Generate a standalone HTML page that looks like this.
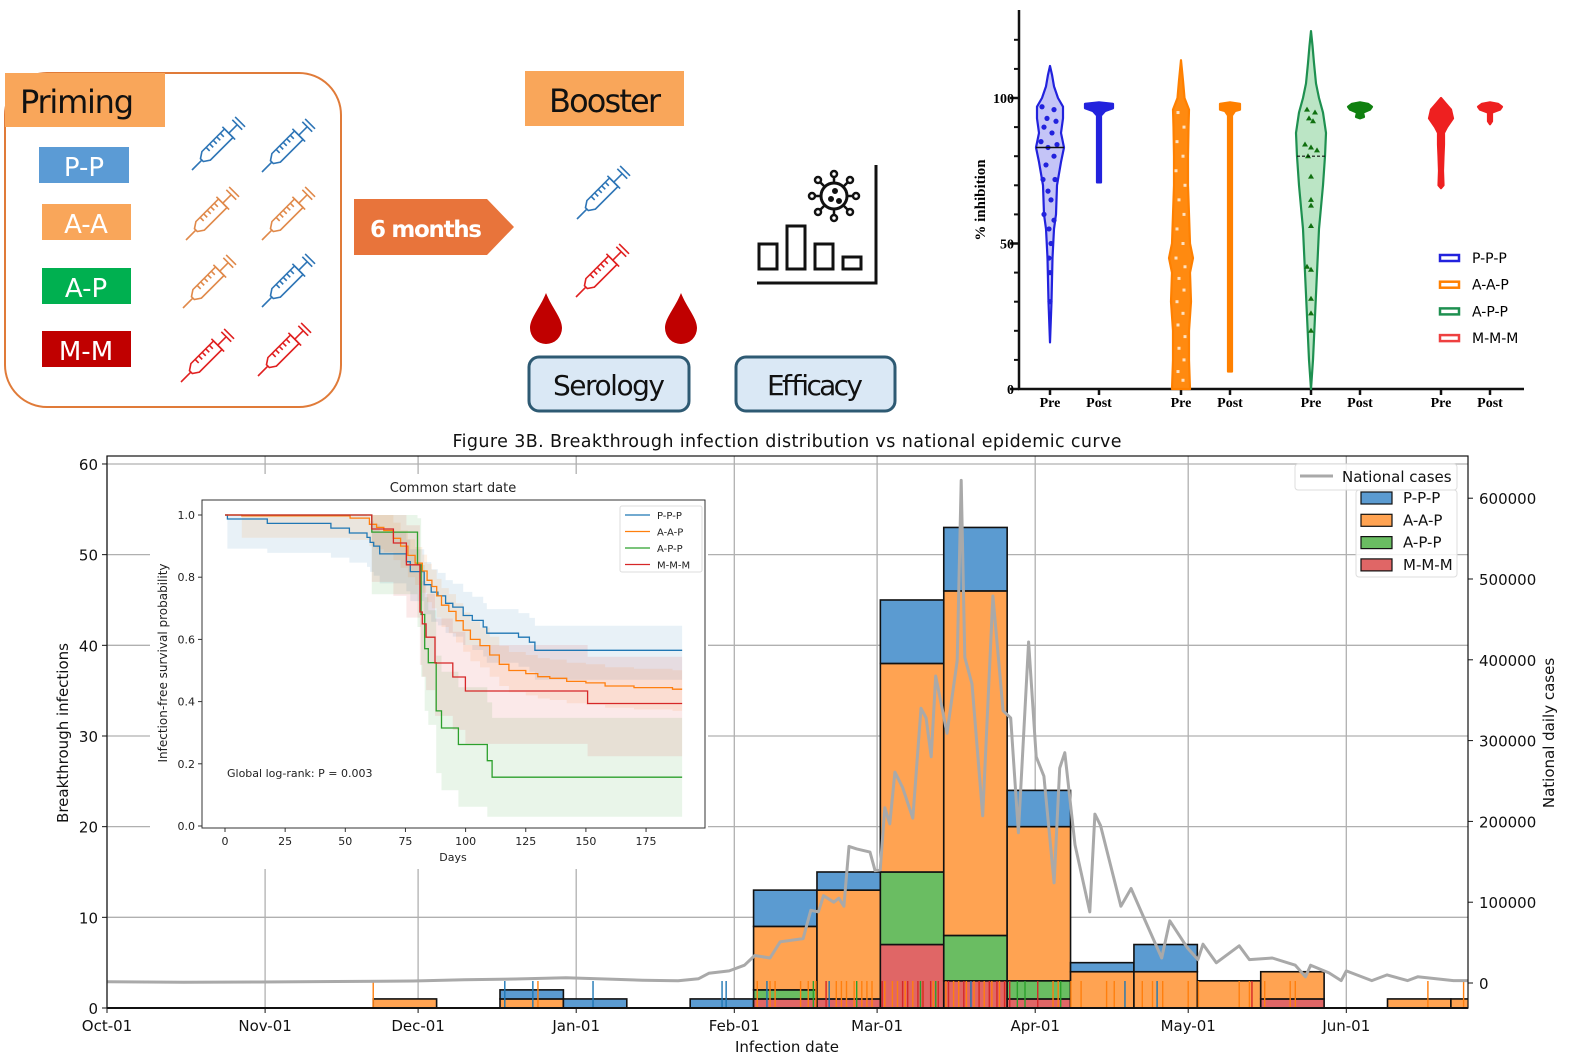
<!DOCTYPE html>
<html><head><meta charset="utf-8">
<style>
html,body{margin:0;padding:0;background:#fff;}
svg{display:block;}
text{font-family:"DejaVu Sans","Liberation Sans",sans-serif;}
.serif{font-family:"Liberation Serif",serif;font-weight:bold;}
</style></head>
<body>
<svg id="fig" width="1571" height="1063" viewBox="0 0 1571 1063" xmlns="http://www.w3.org/2000/svg">
<!-- ===== Schematic ===== -->
<g>
  <rect x="5" y="73" width="336" height="334" rx="42" fill="none" stroke="#e07b39" stroke-width="2"/>
  <rect x="5" y="73" width="160" height="54" fill="#f9a65a"/>
  <text x="20" y="113" font-size="32" fill="#111" textLength="114">Priming</text>
  <rect x="39" y="147" width="90" height="36" fill="#5b9bd5"/>
  <text x="84" y="176" font-size="26" fill="#fff" text-anchor="middle">P-P</text>
  <rect x="42" y="204" width="89" height="36" fill="#f9a65a"/>
  <text x="86" y="233" font-size="26" fill="#fff" text-anchor="middle">A-A</text>
  <rect x="42" y="268" width="89" height="36" fill="#00b050"/>
  <text x="86" y="297" font-size="26" fill="#fff" text-anchor="middle">A-P</text>
  <rect x="42" y="331" width="89" height="36" fill="#c00000"/>
  <text x="86" y="360" font-size="26" fill="#fff" text-anchor="middle">M-M</text>
  <g id="syringes"></g>
  <path d="M354 199 H487 L514 227 L487 255 H354 Z" fill="#e8743b"/>
  <text x="426" y="237" font-size="23" font-weight="bold" fill="#fff" text-anchor="middle" textLength="112">6 months</text>
  <rect x="525" y="71" width="159" height="55" fill="#f9a65a"/>
  <text x="605" y="112" font-size="32" fill="#111" text-anchor="middle" textLength="112">Booster</text>
  <path d="M546 293 C552 308 562 318 562 328 A16 16 0 0 1 530 328 C530 318 540 308 546 293 Z" fill="#c00000"/>
  <path d="M681 293 C687 308 697 318 697 328 A16 16 0 0 1 665 328 C665 318 675 308 681 293 Z" fill="#c00000"/>
  <rect x="529" y="357" width="160" height="54" rx="10" fill="#dae8f5" stroke="#2e5a73" stroke-width="3"/>
  <text x="609" y="395" font-size="28" fill="#111" text-anchor="middle" textLength="112">Serology</text>
  <rect x="736" y="357" width="159" height="54" rx="10" fill="#dae8f5" stroke="#2e5a73" stroke-width="3"/>
  <text x="815" y="395" font-size="28" fill="#111" text-anchor="middle" textLength="96">Efficacy</text>
  <g fill="none" stroke="#111" stroke-width="3">
    <polyline points="876,165 876,283 757,283"/>
    <rect x="759" y="244" width="18" height="25"/><rect x="787" y="226" width="18" height="43"/>
    <rect x="815" y="244" width="18" height="25"/><rect x="843" y="257" width="18" height="12"/>
    <circle cx="834" cy="196" r="13"/>
    <g stroke-width="2.5">
      <line x1="834" y1="183" x2="834" y2="177"/><circle cx="834" cy="174" r="3"/>
      <line x1="834" y1="209" x2="834" y2="215"/><circle cx="834" cy="218" r="3"/>
      <line x1="821" y1="196" x2="815" y2="196"/><circle cx="812" cy="196" r="3"/>
      <line x1="847" y1="196" x2="853" y2="196"/><circle cx="856" cy="196" r="3"/>
      <line x1="825" y1="187" x2="820" y2="182"/><circle cx="818" cy="180" r="3"/>
      <line x1="843" y1="187" x2="848" y2="182"/><circle cx="850" cy="180" r="3"/>
      <line x1="825" y1="205" x2="820" y2="210"/><circle cx="818" cy="212" r="3"/>
      <line x1="843" y1="205" x2="848" y2="210"/><circle cx="850" cy="212" r="3"/>
    </g>
    <circle cx="835" cy="191" r="1.5" fill="#111"/><circle cx="831" cy="199" r="1.5" fill="#111"/><circle cx="839" cy="201" r="1.5" fill="#111"/>
  </g>
</g>

<!-- ===== Violin plot ===== -->
<g id="violin">
  <text transform="translate(985,200) rotate(-90)" class="serif" font-size="15" text-anchor="middle">% inhibition</text>
  <g id="violinAxes"></g>
  <g id="violins"></g>
  <g id="violinLegend"></g>
</g>

<!-- ===== Main chart ===== -->
<text x="787" y="447" font-size="17.5" text-anchor="middle" fill="#111" textLength="669">Figure 3B. Breakthrough infection distribution vs national epidemic curve</text>
<g id="main"></g>
</svg>

<script>
// ---------- main chart data ----------
const monthLabels = ["Oct-01","Nov-01","Dec-01","Jan-01","Feb-01","Mar-01","Apr-01","May-01","Jun-01"];
const monthDays = [0,31,61,92,123,151,182,212,243];
const leftTicks = [0,10,20,30,40,50,60];
const rightTicks = [0,100000,200000,300000,400000,500000,600000];
const groups = ["P-P-P","A-A-P","A-P-P","M-M-M"];
const binStartDay = 52.2;
const binWidthDays = 12.43;
const countsPPP = [0,0,1,1,0,1,4,2,7,7,4,1,3,0,0,0,0,0];
const countsAAP = [1,0,1,0,0,0,7,12,23,38,17,4,4,3,3,0,1,1];
const countsAPP = [0,0,0,0,0,0,1,0,8,5,2,0,0,0,0,0,0,0];
const countsMMM = [0,0,0,0,0,0,1,1,7,3,1,0,0,0,1,0,0,0];
const rugPPP = [78,83.5,95.3,120.6,121.4,129.4,141.6,169.4,199.6,205.9];
const rugAAP = [52.2,84.5,127.5,130,131,136,137.5,139,143,144,145,146.5,148,149,150,152.5,154,155,156.5,158,160,162,163,164.5,166,167,168.5,170,171,172,173.5,175,176,185.5,186.5,189,191,196,197.5,203,205,207,212,214,222,224,227,232,233,259,266];
const rugAPP = [138.5,147,159.5,162.5,178.5,180,187];
const rugMMM = [141,152,156,157,159,160,161.5,163,165,168,171,173,174.5,176,177,182.5,224.5];
const caseDays = [0,15,30,45,60,70,80,90,100,105,110,112,116,118,122,125,127,130,132,136.5,138,139.5,140.5,142.5,143.5,144.5,145.5,147,149.6,150.6,151.6,152.5,153.5,154.5,156,158,159.6,160.6,161.6,162.5,164.7,166.7,167.5,168.2,169.6,171.7,173.7,175.7,177.2,178.7,180.7,182.2,183.7,185.7,186.8,187.8,189.8,192.7,193.7,194.8,198.8,200.8,202.8,206.8,208.4,211.9,213.9,214.9,217.5,222,224,228.5,233,235,236,239.6,242,243,248,251,255,257,264,267];
const caseValues = [1500,1000,1200,1800,2500,4000,5000,6500,4500,3500,3000,2800,5300,12000,15000,22000,34000,31000,51000,55000,90000,88000,108000,100000,105000,95000,169000,166000,162000,139000,140000,217000,197000,261000,242000,204000,340000,328000,280000,380000,309000,399000,622000,403000,370000,207000,479000,337000,328000,186000,422000,280000,256000,124000,266000,285000,171000,88000,209000,195000,95000,117000,88000,31000,77000,43000,29000,48000,25000,46000,29000,31000,22000,7700,22000,12500,3000,15000,3000,10000,3000,7700,3000,3000];

// ---------- inset (KM) data ----------
const kmTicksX = [0,25,50,75,100,125,150,175];
const kmTicksY = [0.0,0.2,0.4,0.6,0.8,1.0];
const kmEnd = 190;
const kmTimesPPP = [1,17.6,44,51.7,59,60.3,61.8,64.3,75.4,77,82.8,85.7,88.5,91.7,94.7,99,102.8,107.3,108.8,122,126.5,128.8];
const kmSurvPPP  = [0.987,0.973,0.958,0.942,0.928,0.912,0.9,0.875,0.85,0.818,0.776,0.752,0.74,0.716,0.704,0.677,0.661,0.64,0.62,0.607,0.591,0.565];
const kmTimesAAP = [7,52,60,63,66,70,73,76,79,82,84,86,88,90,93,96,99,102,106,110,114,118,125,130,135,142,150,158,170,186];
const kmSurvAAP  = [0.997,0.99,0.97,0.96,0.95,0.925,0.9,0.87,0.845,0.82,0.79,0.77,0.74,0.71,0.69,0.66,0.63,0.6,0.58,0.55,0.52,0.5,0.49,0.48,0.475,0.465,0.46,0.45,0.445,0.44];
const kmTimesAPP = [61,80,81.5,83,84.5,87.8,90,97,109,111];
const kmSurvAPP  = [0.945,0.84,0.68,0.57,0.525,0.37,0.315,0.262,0.21,0.157];
const kmTimesMMM = [61,70,75.4,81,82,83.6,87.3,94.7,99.9,150.7];
const kmSurvMMM  = [0.955,0.91,0.84,0.688,0.65,0.607,0.524,0.479,0.434,0.394];
const kmCIHalf = [0.095,0.07,0.2,0.17];

// ---------- violin data ----------
const violinTicks = [0,50,100];
const violinCats = ["Pre","Post","Pre","Post","Pre","Post","Pre","Post"];
const violinShapePPPpre = [[16,0],[30,1.5],[45,2.5],[55,4],[60,6],[70,7],[78,11],[83,14],[88,11],[93,13],[97,13],[100,8],[104,4],[108,2],[111,0]];
const violinShapePPPpost = [[71,2],[73,2],[94,2],[95.5,6],[96.5,14],[98,14],[98.5,0]];
const violinShapeAAPpre = [[0,9],[10,8],[20,8],[30,10],[40,9],[45,12],[50,9],[60,8],[70,7],[80,7],[90,7.5],[96,8],[100,3.5],[106,2],[113,0]];
const violinShapeAAPpost = [[6,2],[7,2],[94,2],[95.5,5],[96,10],[98,10],[98.5,0]];
const violinShapeAPPpre = [[0,0],[10,2],[25,4],[40,6],[55,8],[70,12],[80,14],[88,15],[95,12],[100,8],[105,5],[112,3],[118,1.5],[123,0]];
const violinShapeAPPpost = [[93,0],[93.5,4],[95,3],[96,10],[97,12],[98,8],[98.5,0]];
const violinShapeMMMpre = [[69,0],[70,2.5],[75,2],[80,2.5],[84,3],[88,3],[90,6],[93,12],[96,10],[98,5],[100,0]];
const violinShapeMMMpost = [[91,0],[92,2],[95,2],[96,10],[97,12],[98,8],[98.5,0]];
const violinDotsPPP = [[97,-8],[96,4],[93,-3],[92,6],[90,-6],[88,2],[85,-9],[84,7],[83,-2],[80,4],[77,-4],[72,-7],[72,5],[68,-2],[65,1],[60,-6],[58,4],[55,-1],[50,1],[45,-1],[40,0],[30,0]];
const violinDotsAPP = [[96,-4],[95,4],[93,-2],[92,2],[84,-6],[83,0],[82,6],[80,-3],[73,0],[65,0],[63,0],[56,0],[42,-4],[41,0],[31,0],[26,0],[20,0]];
const violinDotsAAP = [[95,-3],[90,3],[85,-4],[80,2],[75,-5],[70,4],[65,-2],[60,3],[55,-4],[50,2],[45,-5],[42,4],[38,-2],[34,3],[30,-4],[26,2],[22,-3],[18,4],[14,-2],[10,3],[6,-3],[3,2]];

const NS = "http://www.w3.org/2000/svg";
function mk(parent, tag, attrs, text) {
  const e = document.createElementNS(NS, tag);
  for (const k in attrs) e.setAttribute(k, attrs[k]);
  if (text !== undefined) e.textContent = text;
  parent.appendChild(e);
  return e;
}

// ---------- syringes ----------
(function(){
  const g = document.getElementById("syringes");
  const list = [[192,170,"#2e75b6"],[262,172,"#2e75b6"],[186,240,"#e0894a"],[262,240,"#e0894a"],[183,308,"#e0894a"],[262,307,"#2e75b6"],[181,382,"#e02020"],[258,376,"#e02020"],[577,219,"#2e75b6"],[576,297,"#e02020"]];
  list.forEach((s,i)=>{
    const sg = mk(g,"g",{transform:`translate(${s[0]},${s[1]}) rotate(-45)`,fill:"none",stroke:s[2],"stroke-width":"1.6"});
    
    
    mk(sg,"line",{x1:0,y1:0,x2:14,y2:0});
    mk(sg,"path",{d:"M14 -2 L20 -6 H52 V6 H20 L14 2 Z"});
    for (let k=0;k<5;k++) mk(sg,"line",{x1:26+k*5,y1:-6,x2:26+k*5,y2:-1});
    mk(sg,"line",{x1:52,y1:0,x2:64,y2:0});
    mk(sg,"line",{x1:52,y1:-9,x2:52,y2:9});
    mk(sg,"line",{x1:64,y1:-7,x2:64,y2:7});
    mk(sg,"line",{x1:68,y1:-7,x2:68,y2:7});
  });
})();

// ---------- violin ----------
(function(){
  const ax = document.getElementById("violinAxes");
  const y0 = 389, pxPer = 2.91, xL = 1019, xR = 1524;
  const vy = v => y0 - v*pxPer;
  mk(ax,"line",{x1:xL,y1:10,x2:xL,y2:y0+1,stroke:"#111","stroke-width":2.5});
  mk(ax,"line",{x1:xL-1,y1:y0,x2:xR,y2:y0,stroke:"#111","stroke-width":2.5});
  for (let v=0; v<=128; v+=10) mk(ax,"line",{x1:xL-5,y1:vy(v),x2:xL,y2:vy(v),stroke:"#111","stroke-width":2});
  violinTicks.forEach(v=>{
    mk(ax,"line",{x1:xL-9,y1:vy(v),x2:xL,y2:vy(v),stroke:"#111","stroke-width":2.5});
    const t = mk(ax,"text",{x:xL-5,y:vy(v)+5,"font-size":14,"text-anchor":"end",class:"serif"},String(v));
    
    
  });
  const cx = [1050,1099,1181,1230,1311,1360,1441,1490];
  violinCats.forEach((c,i)=>{
    mk(ax,"line",{x1:cx[i],y1:y0,x2:cx[i],y2:y0+6,stroke:"#111","stroke-width":2.5});
    const t = mk(ax,"text",{x:cx[i],y:407,"font-size":14,"text-anchor":"middle",class:"serif"},c);
    
    
  });
  const vg = document.getElementById("violins");
  const shapes = [violinShapePPPpre,violinShapePPPpost,violinShapeAAPpre,violinShapeAAPpost,violinShapeAPPpre,violinShapeAPPpost,violinShapeMMMpre,violinShapeMMMpost];
  const cols = ["#2222dd","#2222dd","#ff8000","#ff8000","#1e9050","#108010","#ee2020","#ee2020"];
  const fills = ["rgba(60,60,230,0.3)","#2222dd","#ff8a10","#ff8000","rgba(60,180,90,0.35)","#108010","#ee2020","#ee2020"];
  shapes.forEach((sh,i)=>{
    let d = "";
    sh.forEach((p,j)=>{ d += (j?"L":"M")+(cx[i]+p[1])+" "+vy(p[0]); });
    for (let j=sh.length-1;j>=0;j--) d += "L"+(cx[i]-sh[j][1])+" "+vy(sh[j][0]);
    d += "Z";
    const p = mk(vg,"path",{d:d,fill:fills[i],stroke:cols[i],"stroke-width":2.2,"stroke-linejoin":"round"});
    
    
  });
  violinDotsPPP.forEach(p=>{
    const c = mk(vg,"circle",{cx:1050+p[1],cy:vy(p[0]),r:2.6,fill:"#2222dd"});
    
    
  });
  violinDotsAAP.forEach(p=>{
    const c = mk(vg,"rect",{x:1181+p[1]-1.5,y:vy(p[0])-1.5,width:3,height:3,fill:"#fde0c0"});
    
    
  });
  violinDotsAPP.forEach(p=>{
    const x=1311+p[1], y=vy(p[0]);
    const c = mk(vg,"path",{d:`M${x} ${y-3}L${x+3} ${y+2}L${x-3} ${y+2}Z`,fill:"#107010"});
    
    
  });
  mk(vg,"line",{x1:1036,y1:vy(83),x2:1064,y2:vy(83),stroke:"#111","stroke-width":1.5});
  mk(vg,"line",{x1:1297,y1:vy(80),x2:1325,y2:vy(80),stroke:"#111","stroke-width":1.2,"stroke-dasharray":"3 2"});
  const lg = document.getElementById("violinLegend");
  const lcols = ["#2222dd","#ff8000","#1e9050","#ee4040"];
  groups.forEach((g,i)=>{
    const y = 258 + i*26.7;
    const r = mk(lg,"rect",{x:1440,y:y-3,width:19,height:6,fill:"#fff",stroke:lcols[i],"stroke-width":2.5});
    
    
    const t = mk(lg,"text",{x:1472,y:y+5,"font-size":14,"font-family":"Liberation Serif, serif"},g);
    
    
  });
})();

// ---------- main chart ----------
(function(){
  const m = document.getElementById("main");
  const X0 = 107, XR = 1468, YB = 1008, YT = 456;
  const xd = d => X0 + d*5.1;
  const yl = v => YB - v*9.067;
  const yr = v => 983 - v/100000*80.8;
  mk(m,"defs",{}).innerHTML = `<clipPath id="plotclip"><rect x="${X0}" y="${YT}" width="${XR-X0}" height="${YB-YT}"/></clipPath>`;
  const grid = mk(m,"g",{stroke:"#b0b0b0","stroke-width":1.3});
  
  
  leftTicks.forEach(v=>mk(grid,"line",{x1:X0,y1:yl(v),x2:XR,y2:yl(v)}));
  monthDays.forEach(d=>mk(grid,"line",{x1:xd(d),y1:YT,x2:xd(d),y2:YB}));
  const plot = mk(m,"g",{"clip-path":"url(#plotclip)"});
  const series = [countsMMM,countsAPP,countsAAP,countsPPP];
  const names = ["M-M-M","A-P-P","A-A-P","P-P-P"];
  const colors = ["#e06666","#6abd62","#ffa352","#5b9bd1"];
  for (let k=0;k<countsPPP.length;k++){
    let base = 0;
    const x1 = xd(binStartDay + k*binWidthDays), x2 = xd(binStartDay + (k+1)*binWidthDays);
    series.forEach((s,si)=>{
      if (s[k]>0){
        const r = mk(plot,"rect",{x:x1,y:yl(base+s[k]),width:x2-x1,height:yl(base)-yl(base+s[k]),fill:colors[si],stroke:"#111","stroke-width":1.6});
        
        
      }
      base += s[k];
    });
  }
  const rugs = [[rugAAP,"#ff7f0e"],[rugMMM,"#d62728"],[rugAPP,"#2ca02c"],[rugPPP,"#1f77b4"]];
  rugs.forEach(rg=>rg[0].forEach(d=>{
    const l = mk(plot,"line",{x1:xd(d),y1:YB,x2:xd(d),y2:YB-27,stroke:rg[1],"stroke-width":1.4});
    
    
  }));
  let pd = "";
  caseDays.forEach((d,i)=>{ pd += (i?"L":"M")+xd(d).toFixed(1)+" "+yr(caseValues[i]).toFixed(1); });
  const nl = mk(plot,"path",{d:pd,fill:"none",stroke:"#a9a9a9","stroke-width":3,"stroke-linejoin":"round"});
  
  
  const axes = mk(m,"g",{});
  
  
  mk(axes,"rect",{x:X0,y:YT,width:XR-X0,height:YB-YT,fill:"none",stroke:"#111","stroke-width":1.2});
  mk(axes,"line",{x1:X0,y1:YB,x2:XR,y2:YB,stroke:"#111","stroke-width":2});
  leftTicks.forEach(v=>{
    mk(axes,"line",{x1:X0-5,y1:yl(v),x2:X0,y2:yl(v),stroke:"#111"});
    const t = mk(axes,"text",{x:X0-9,y:yl(v)+6,"font-size":15,"text-anchor":"end",fill:"#111"},String(v));
    
    
  });
  rightTicks.forEach(v=>{
    mk(axes,"line",{x1:XR,y1:yr(v),x2:XR+5,y2:yr(v),stroke:"#111"});
    const t = mk(axes,"text",{x:XR+11,y:yr(v)+6,"font-size":15,fill:"#111"},String(v));
    
    
  });
  monthDays.forEach((d,i)=>{
    mk(axes,"line",{x1:xd(d),y1:YB,x2:xd(d),y2:YB+5,stroke:"#111"});
    const t = mk(axes,"text",{x:xd(d),y:YB+23,"font-size":15,"text-anchor":"middle",fill:"#111"},monthLabels[i]);
    
    
  });
  let t = mk(axes,"text",{x:787,y:1052,"font-size":15,"text-anchor":"middle",fill:"#111"},"Infection date");
   
  t = mk(axes,"text",{transform:"translate(68,733) rotate(-90)","font-size":15,"text-anchor":"middle",fill:"#111"},"Breakthrough infections");
   
  t = mk(axes,"text",{transform:"translate(1554,733) rotate(-90)","font-size":15,"text-anchor":"middle",fill:"#111"},"National daily cases");
   
  const lg = mk(m,"g",{});
  
  
  mk(lg,"rect",{x:1295,y:464,width:162,height:26,rx:3,fill:"rgba(255,255,255,0.85)",stroke:"#ddd"});
  mk(lg,"line",{x1:1300,y1:476,x2:1333,y2:476,stroke:"#a9a9a9","stroke-width":3});
  t = mk(lg,"text",{x:1342,y:482,"font-size":15,fill:"#111"},"National cases");
   
  mk(lg,"rect",{x:1356,y:490,width:101,height:87,rx:3,fill:"rgba(255,255,255,0.85)",stroke:"#ddd"});
  const legCols = ["#5b9bd1","#ffa352","#6abd62","#e06666"];
  groups.forEach((g,i)=>{
    const y = 498 + i*22.3;
    const r = mk(lg,"rect",{x:1361,y:y-6,width:31,height:12,fill:legCols[i],stroke:"#111","stroke-width":1.2});
     
    const tx = mk(lg,"text",{x:1403,y:y+5,"font-size":15,fill:"#111"},g);
     
  });

  // ---------- inset ----------
  const ins = mk(m,"g",{});
  
  
  mk(ins,"rect",{x:150,y:474,width:558,height:395,fill:"#fff"});
  const ix = d => 225 + d*2.406;
  const iy = p => 826 - p*311;
  mk(ins,"rect",{x:202,y:500,width:503,height:328,fill:"none",stroke:"#333","stroke-width":1});
  const kmCols = ["#1f77b4","#ff7f0e","#2ca02c","#d62728"];
  const kmT = [kmTimesPPP,kmTimesAAP,kmTimesAPP,kmTimesMMM];
  const kmS = [kmSurvPPP,kmSurvAAP,kmSurvAPP,kmSurvMMM];
  function stepPath(ts, ss){
    let d = `M${ix(0)} ${iy(1)}`;
    ts.forEach((tt,i)=>{ d += `H${ix(tt).toFixed(1)}V${iy(ss[i]).toFixed(1)}`; });
    d += `H${ix(kmEnd)}`;
    return d;
  }
  kmT.forEach((ts,g)=>{
    const ss = kmS[g], h = kmCIHalf[g];
    const up = ss.map(v=>Math.min(1,v+h*(1-v*0.3)));
    const lo = ss.map(v=>Math.max(0.03,v-h));
    let d = "";
    ts.forEach((t0,i)=>{ const t1 = i+1<ts.length?ts[i+1]:kmEnd; d += (i?"L":"M")+ix(t0).toFixed(1)+" "+iy(up[i]).toFixed(1)+"L"+ix(t1).toFixed(1)+" "+iy(up[i]).toFixed(1); });
    for (let i=ts.length-1;i>=0;i--){ const t1 = i+1<ts.length?ts[i+1]:kmEnd; d += "L"+ix(t1).toFixed(1)+" "+iy(lo[i]).toFixed(1)+"L"+ix(ts[i]).toFixed(1)+" "+iy(lo[i]).toFixed(1); }
    d += "Z";
    const b = mk(ins,"path",{d:d,fill:kmCols[g],"fill-opacity":0.1});
    
    
  });
  kmT.forEach((ts,g)=>{
    const p = mk(ins,"path",{d:stepPath(ts,kmS[g]),fill:"none",stroke:kmCols[g],"stroke-width":1.3});
    
    
  });
  kmTicksX.forEach(v=>{
    mk(ins,"line",{x1:ix(v),y1:828,x2:ix(v),y2:832,stroke:"#333"});
    const tx = mk(ins,"text",{x:ix(v),y:845,"font-size":11,"text-anchor":"middle",fill:"#222"},String(v));
     
  });
  kmTicksY.forEach(v=>{
    mk(ins,"line",{x1:198,y1:iy(v),x2:202,y2:iy(v),stroke:"#333"});
    const tx = mk(ins,"text",{x:195,y:iy(v)+4,"font-size":11,"text-anchor":"end",fill:"#222"},v.toFixed(1));
     
  });
  t = mk(ins,"text",{x:453,y:861,"font-size":11,"text-anchor":"middle",fill:"#222"},"Days");
   
  t = mk(ins,"text",{transform:"translate(167,663) rotate(-90)","font-size":12,"text-anchor":"middle",fill:"#222"},"Infection-free survival probability");
   
  t = mk(ins,"text",{x:453,y:492,"font-size":13,"text-anchor":"middle",fill:"#222"},"Common start date");
   
  t = mk(ins,"text",{x:227,y:777,"font-size":11,fill:"#222"},"Global log-rank: P = 0.003");
   
  mk(ins,"rect",{x:620,y:506,width:82,height:66,rx:2,fill:"#fff",stroke:"#ddd"});
  groups.forEach((g,i)=>{
    const y = 515 + i*16.5;
    mk(ins,"line",{x1:625,y1:y,x2:650,y2:y,stroke:kmCols[i],"stroke-width":1.3});
    const tx = mk(ins,"text",{x:657,y:y+4,"font-size":10,fill:"#222"},g);
     
  });
})();
</script>
</body></html>
